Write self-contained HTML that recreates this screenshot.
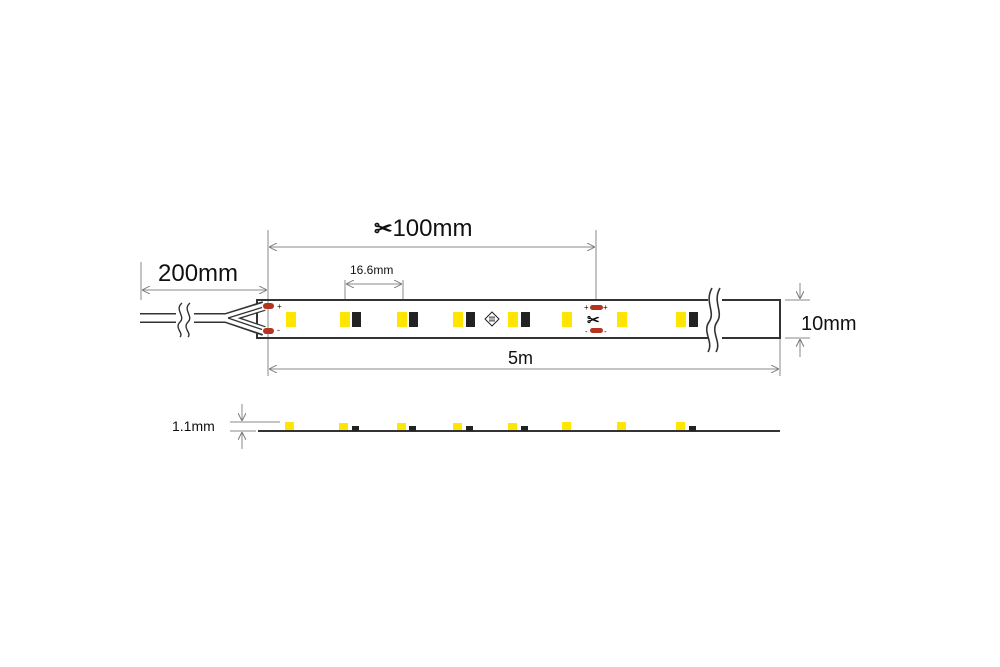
<!DOCTYPE html>
<html><head><meta charset="utf-8"><style>
html,body{margin:0;padding:0;background:#fff;width:1000px;height:667px;overflow:hidden}
svg{display:block}
text{font-family:"Liberation Sans",Arial,sans-serif;fill:#111}
</style></head><body>
<svg width="1000" height="667" viewBox="0 0 1000 667" xmlns="http://www.w3.org/2000/svg">
<defs>
<marker id="a" viewBox="0 0 10 10" refX="10" refY="5" markerWidth="8" markerHeight="8" orient="auto-start-reverse" markerUnits="userSpaceOnUse"><path d="M0,0 L10,5 L0,10" fill="none" stroke="#777" stroke-width="1.2"/></marker>
</defs>
<g stroke="#888" stroke-width="1" fill="none">
<line x1="141" y1="262" x2="141" y2="300"/>
<line x1="142" y1="290" x2="267" y2="290" marker-start="url(#a)" marker-end="url(#a)"/>
<line x1="268" y1="230" x2="268" y2="376"/>
<line x1="596" y1="230" x2="596" y2="300"/>
<line x1="269" y1="247" x2="595" y2="247" marker-start="url(#a)" marker-end="url(#a)"/>
<line x1="345" y1="280" x2="345" y2="300"/>
<line x1="403" y1="280" x2="403" y2="300"/>
<line x1="346" y1="284" x2="402" y2="284" marker-start="url(#a)" marker-end="url(#a)"/>
<line x1="780" y1="338" x2="780" y2="376"/>
<line x1="269" y1="369" x2="779" y2="369" marker-start="url(#a)" marker-end="url(#a)"/>
<line x1="785" y1="300" x2="810" y2="300"/>
<line x1="785" y1="338" x2="810" y2="338"/>
<line x1="800" y1="283" x2="800" y2="299" marker-end="url(#a)"/>
<line x1="800" y1="357" x2="800" y2="339" marker-end="url(#a)"/>
<line x1="230" y1="422" x2="280" y2="422"/>
<line x1="230" y1="431" x2="256" y2="431"/>
<line x1="242" y1="404" x2="242" y2="421" marker-end="url(#a)"/>
<line x1="242" y1="449" x2="242" y2="432" marker-end="url(#a)"/>
</g>
<g stroke="#333" stroke-width="2" fill="none">
<path d="M708,300 L257,300 L257,338 L708,338"/>
<path d="M722,300 L780,300 L780,338 L722,338"/>
</g>
<rect x="708" y="288" width="14" height="62" fill="#fff"/>
<g stroke="#333" stroke-width="1.6" fill="none">
<path d="M712,288 C704,302 716,312 709,322 C702,332 714,342 708,352"/>
<path d="M720,288 C712,302 724,312 717,322 C710,332 722,342 716,352"/>
</g>
<!-- wire -->
<g fill="none" stroke-linejoin="round">
<path d="M140,318 L176,318 M194,318 L226,318 L264,306 M226,318 L264,331" stroke="#333" stroke-width="10"/>
<path d="M139,318 L177,318 M193,318 L226,318 L265,306 M226,318 L265,331" stroke="#fff" stroke-width="7"/>
<path d="M228,318 L262,307.5 M228,318 L262,329.5" stroke="#333" stroke-width="1.3"/>
</g>
<rect x="176" y="300" width="18" height="40" fill="#fff"/>
<g stroke="#333" stroke-width="1.4" fill="none">
<path d="M182,303 C174,310 186,316 180,322 C174,328 184,333 180,337"/>
<path d="M190,303 C182,310 194,316 188,322 C182,328 192,333 188,337"/>
</g>
<rect x="263" y="303" width="11" height="6" rx="3" fill="#b5341f"/>
<rect x="263" y="328" width="11" height="6" rx="3" fill="#b5341f"/>
<text x="277" y="309" font-size="8">+</text>
<text x="277" y="333" font-size="9">-</text>
<g fill="#ffe600">
<rect x="286" y="312" width="10" height="15"/>
<rect x="340" y="312" width="10" height="15"/>
<rect x="397" y="312" width="10" height="15"/>
<rect x="453" y="312" width="10" height="15"/>
<rect x="508" y="312" width="10" height="15"/>
<rect x="562" y="312" width="10" height="15"/>
<rect x="617" y="312" width="10" height="15"/>
<rect x="676" y="312" width="10" height="15"/>
</g>
<g fill="#222">
<rect x="352" y="312" width="9" height="15"/>
<rect x="409" y="312" width="9" height="15"/>
<rect x="466" y="312" width="9" height="15"/>
<rect x="521" y="312" width="9" height="15"/>
<rect x="689" y="312" width="9" height="15"/>
</g>
<path d="M492,312 L499,319 L492,326 L485,319 Z" fill="none" stroke="#222" stroke-width="1"/>
<path d="M489,317 H495 M489,321 H495 M490,317 V321 M492,317 V321 M494,317 V321" stroke="#222" stroke-width="0.7"/>
<rect x="590" y="305" width="13" height="5" rx="2.5" fill="#b5341f"/>
<rect x="590" y="328" width="13" height="5" rx="2.5" fill="#b5341f"/>
<text x="584" y="310" font-size="8">+</text><text x="603" y="310" font-size="8">+</text>
<text x="585" y="334" font-size="8">-</text><text x="604" y="334" font-size="8">-</text>
<text x="587" y="325" font-size="15" font-weight="bold">✂</text>
<line x1="258" y1="431" x2="780" y2="431" stroke="#333" stroke-width="2"/>
<g fill="#ffe600">
<rect x="285" y="422" width="9" height="8"/><rect x="339" y="423" width="9" height="7"/><rect x="397" y="423" width="9" height="7"/><rect x="453" y="423" width="9" height="7"/><rect x="508" y="423" width="9" height="7"/><rect x="562" y="422" width="9" height="8"/><rect x="617" y="422" width="9" height="8"/><rect x="676" y="422" width="9" height="8"/>
</g>
<g fill="#222">
<rect x="352" y="426" width="7" height="5"/><rect x="409" y="426" width="7" height="5"/><rect x="466" y="426" width="7" height="5"/><rect x="521" y="426" width="7" height="5"/><rect x="689" y="426" width="7" height="5"/>
</g>
<text x="158" y="281" font-size="24">200mm</text>
<text x="374" y="236" font-size="24"><tspan font-size="22" font-weight="bold">✂</tspan>100mm</text>
<text x="350" y="274" font-size="12">16.6mm</text>
<text x="508" y="364" font-size="18">5m</text>
<text x="801" y="330" font-size="20">10mm</text>
<text x="172" y="431" font-size="14">1.1mm</text>
</svg>
</body></html>
